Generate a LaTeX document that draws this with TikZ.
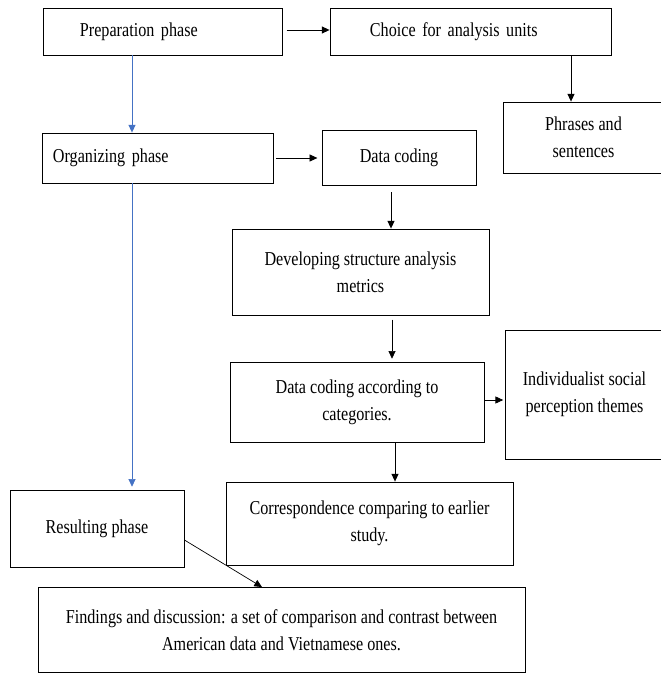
\documentclass[tikz,border=0pt]{standalone}
\usepackage{fontspec}
\setmainfont{Liberation Serif}[FakeStretch=0.82]
\usepackage{tikz}
\usetikzlibrary{arrows,arrows.meta}
\definecolor{phaseblue}{HTML}{4472C4}

\begin{document}
\begin{tikzpicture}[
x=0.025cm, y=-0.025cm,
font=\fontsize{14}{19}\selectfont,
box/.style={draw,line width=0.6pt,align=center,inner sep=2pt},
leftbox/.style={box,align=left},
arrow/.style={-{Triangle[length=5.5pt,width=5pt]},line width=0.5pt},
phasearrow/.style={arrow,draw=phaseblue,fill=phaseblue} ]

\useasboundingbox (0,0) rectangle (660,675);

\node[leftbox,inner xsep=0.925cm,text width=4.125cm,minimum height=1.175cm](prep) at (162.5,31.5) {Preparation phase};

\node[leftbox,inner xsep=1cm,text width=5.025cm,minimum height=1.175cm](choice) at (470.5,31.5) {Choice for analysis units};

\node[box,minimum width=4.025cm,minimum height=1.775cm](phrases) at (583.5,137.5) {Phrases and\\ sentences};

\node[leftbox,inner xsep=0.275cm,text width=5.225cm,minimum height=1.25cm](org) at (157.5,158) {Organizing phase};

\node[box,minimum width=3.85cm,minimum height=1.375cm](coding) at (399,157.5) {Data coding};

\node[box,minimum width=6.425cm,minimum height=2.15cm](metrics) at (360.5,272) {Developing structure analysis\\ metrics};

\node[box,minimum width=6.35cm,minimum height=2cm](categ) at (357,402) {Data coding according to\\ categories.};

\node[box,minimum width=3.975cm,minimum height=3.225cm](themes) at (584.5,394.5) {Individualist social\\ perception themes};

\node[box,minimum width=7.175cm,minimum height=2.075cm](corresp) at (369.5,523.5) {Correspondence comparing to earlier\\ study.};

\node[box,minimum width=4.35cm,minimum height=1.925cm](result) at (97,528.5) {Resulting phase};

\node[box,minimum width=12.175cm,minimum height=2.125cm](findings) at (281.5,630) {Findings and discussion: a set of comparison and contrast between\\ American data and Vietnamese ones.};

\draw[arrow,shorten <=3pt] (prep.east |- 0,30) -- (choice.west |- 0,30);

\draw[arrow] (choice.south -| 571,0) -- (phrases.north -| 571,0);

\draw[phasearrow] (prep.south -| 132,0) -- (org.north -| 132,0);

\draw[phasearrow,shorten >=2pt] (org.south -| 132,0) -- (result.north -| 132,0);

\draw[arrow,shorten <=2pt,shorten >=3pt] (org.east) -- (coding.west |- org.east);

\draw[arrow,shorten <=5pt] (coding.south -| 391,0) -- (metrics.north -| 391,0);

\draw[arrow,shorten <=3pt,shorten >=2pt] (metrics.south -| 392,0) -- (categ.north -| 392,0);

\draw[arrow,shorten >=1pt] (categ.east |- 0,400) -- (themes.west |- 0,400);

\draw[arrow] (categ.south -| 395,0) -- (corresp.north -| 395,0);

\draw[arrow] (result.east |- 0,540) -- (findings.north -| 262,0);
\end{tikzpicture}
\end{document}
